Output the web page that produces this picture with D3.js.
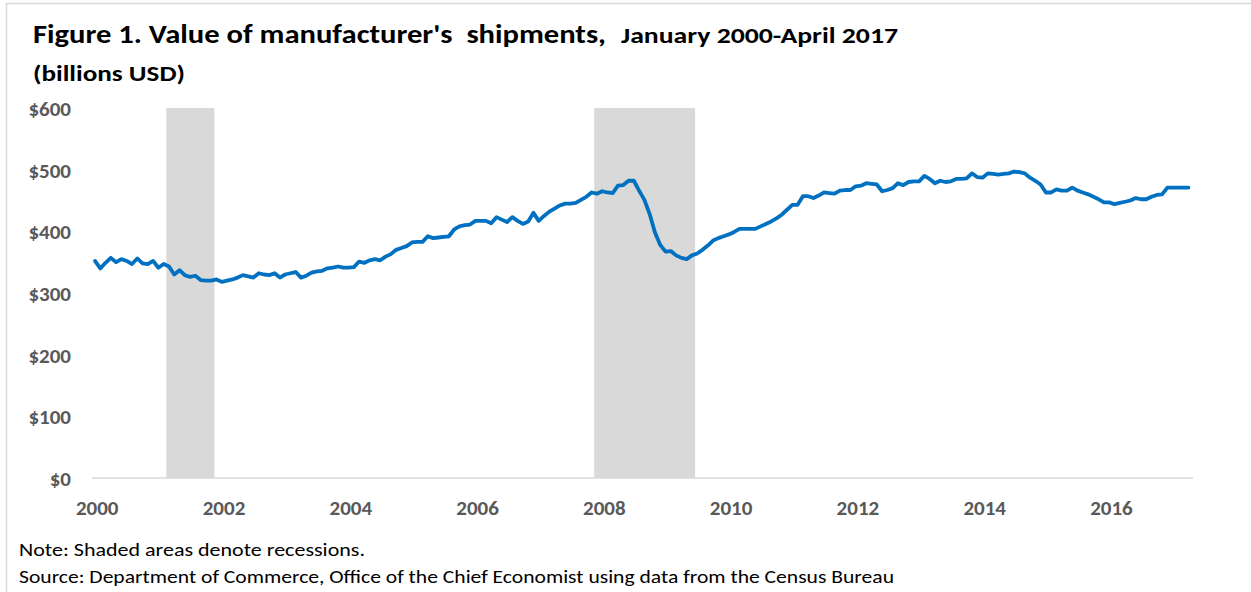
<!DOCTYPE html>
<html>
<head>
<meta charset="utf-8">
<script src="https://cdn.jsdelivr.net/npm/d3@7"></script>
<style>
  body { margin: 0; background: #ffffff; }
  #container { width: 1251px; height: 592px; }
  text { font-family: Carlito, Calibri, Lato, sans-serif; white-space: pre; }
</style>
</head>
<body>
<div id="container"></div>
<script>
let w = 1251;
let h = 592;

// monthly values (billions USD), one array per year
let v2000 = [352, 340, 349, 357, 350, 355, 352, 347, 356, 348, 347, 352];
let v2001 = [341, 347, 343, 330, 337, 329, 326, 328, 321, 320, 320, 322];
let v2002 = [318, 320, 322, 325, 329, 327, 325, 332, 330, 329, 332, 325];
let v2003 = [330, 332, 334, 325, 328, 333, 335, 336, 340, 341, 343, 341];
let v2004 = [341, 342, 351, 349, 353, 355, 353, 359, 363, 370, 373, 376];
let v2005 = [382, 383, 383, 392, 389, 390, 391, 392, 403, 408, 410, 411];
let v2006 = [417, 417, 417, 413, 423, 419, 415, 423, 417, 412, 416, 430];
let v2007 = [417, 425, 432, 437, 442, 445, 445, 446, 451, 456, 463, 461];
let v2008 = [465, 463, 462, 474, 475, 482, 482, 466, 451, 428, 398, 378];
let v2009 = [367, 368, 361, 357, 355, 361, 364, 370, 377, 385, 389, 392];
let v2010 = [395, 399, 404, 404, 404, 404, 408, 412, 416, 421, 427, 435];
let v2011 = [443, 443, 457, 457, 454, 458, 463, 462, 461, 466, 467, 467];
let v2012 = [473, 474, 478, 477, 476, 465, 467, 470, 478, 475, 480, 481];
let v2013 = [481, 490, 485, 478, 482, 480, 481, 485, 485, 486, 494, 488];
let v2014 = [487, 494, 493, 492, 493, 494, 497, 496, 494, 487, 482, 476];
let v2015 = [463, 463, 468, 466, 466, 471, 466, 463, 460, 456, 452, 447];
let v2016 = [447, 444, 446, 448, 450, 454, 452, 452, 456, 459, 460, 471];
let v2017 = [471, 471, 471, 471];

// recessions as [first month, last month], counted from January 2000
let recessions = [[14, 22], [95, 113]];

// tick labels
let yearTicks = [2000, 2002, 2004, 2006, 2008, 2010, 2012, 2014, 2016];
let yTicks = [0, 100, 200, 300, 400, 500, 600];

let values = [].concat(v2000, v2001, v2002, v2003, v2004, v2005, v2006, v2007,
                       v2008, v2009, v2010, v2011, v2012, v2013, v2014, v2015,
                       v2016, v2017);

let viz = d3.select("#container")
  .append("svg")
    .attr("width", w)
    .attr("height", h)
    .style("background-color", "#ffffff");

// light frame on the left and top edge
viz.append("path")
  .attr("d", "M6.5," + h + "V3.5H" + w)
  .attr("fill", "none")
  .attr("stroke", "#d9d9d9")
  .attr("stroke-width", 1.5);

let xScale = d3.scaleLinear().domain([0, values.length - 1]).range([95, 1188.5]);
let yScale = d3.scaleLinear().domain([0, 600]).range([478, 108]);

// recession shading
viz.append("g").attr("class", "recessions")
  .selectAll("rect")
  .data(recessions)
  .enter()
  .append("rect")
    .attr("x", d => xScale(d[0] - 0.5))
    .attr("width", d => xScale(d[1] + 0.6) - xScale(d[0] - 0.5))
    .attr("y", yScale(600))
    .attr("height", yScale(0) - yScale(600))
    .attr("fill", "#d9d9d9");

// baseline
viz.append("line")
  .attr("x1", xScale.range()[0] - 3)
  .attr("x2", xScale.range()[1] + 4.5)
  .attr("y1", yScale(0))
  .attr("y2", yScale(0))
  .attr("stroke", "#d9d9d9")
  .attr("stroke-width", 1.5);

// y axis, labels only
let yAxis = d3.axisLeft(yScale)
  .tickValues(yTicks)
  .tickSize(0)
  .tickPadding(0)
  .tickFormat(d => "$" + d);
let yAxisGroup = viz.append("g").attr("class", "yaxis")
  .attr("transform", "translate(71,0)")
  .call(yAxis);
yAxisGroup.select(".domain").remove();
yAxisGroup.selectAll("text")
  .attr("dy", "0.36em")
  .style("font-size", "21px")
  .style("font-weight", "bold")
  .attr("fill", "#595959");

// x axis, labels only, one every two years
let xAxis = d3.axisBottom(xScale)
  .tickValues(yearTicks.map(y => (y - 2000) * 12))
  .tickSize(0)
  .tickFormat(d => 2000 + d / 12);
let xAxisGroup = viz.append("g").attr("class", "xaxis")
  .attr("transform", "translate(1.7," + yScale(0) + ")")
  .call(xAxis);
xAxisGroup.select(".domain").remove();
xAxisGroup.selectAll("text")
  .attr("y", 29)
  .attr("dy", "0.36em")
  .style("font-size", "21px")
  .style("font-weight", "bold")
  .attr("fill", "#595959");

// the shipments line
let line = d3.line()
  .x((d, i) => xScale(i))
  .y(d => yScale(d));

viz.append("path")
  .datum(values)
  .attr("d", line)
  .attr("fill", "none")
  .attr("stroke", "#0070c0")
  .attr("stroke-width", 3.8)
  .attr("stroke-linejoin", "round")
  .attr("stroke-linecap", "round");

// titles
viz.append("text")
  .attr("x", 33).attr("y", 43)
  .attr("textLength", 573).attr("lengthAdjust", "spacingAndGlyphs")
  .style("font-size", "27px").style("font-weight", "bold")
  .attr("fill", "#000000")
  .text("Figure 1. Value of manufacturer's  shipments,");
viz.append("text")
  .attr("x", 621).attr("y", 43)
  .attr("textLength", 277).attr("lengthAdjust", "spacingAndGlyphs")
  .style("font-size", "22px").style("font-weight", "bold")
  .attr("fill", "#000000")
  .text("January 2000-April 2017");
viz.append("text")
  .attr("x", 33).attr("y", 81)
  .attr("textLength", 152).attr("lengthAdjust", "spacingAndGlyphs")
  .style("font-size", "23px").style("font-weight", "bold")
  .attr("fill", "#000000")
  .text("(billions USD)");

// notes
viz.append("text")
  .attr("x", 19).attr("y", 556)
  .attr("textLength", 346).attr("lengthAdjust", "spacingAndGlyphs")
  .style("font-size", "18px")
  .attr("fill", "#000000")
  .text("Note: Shaded areas denote recessions.");
viz.append("text")
  .attr("x", 19).attr("y", 583)
  .attr("textLength", 875).attr("lengthAdjust", "spacingAndGlyphs")
  .style("font-size", "18px")
  .attr("fill", "#000000")
  .text("Source: Department of Commerce, Office of the Chief Economist using data from the Census Bureau");
</script>
</body>
</html>
